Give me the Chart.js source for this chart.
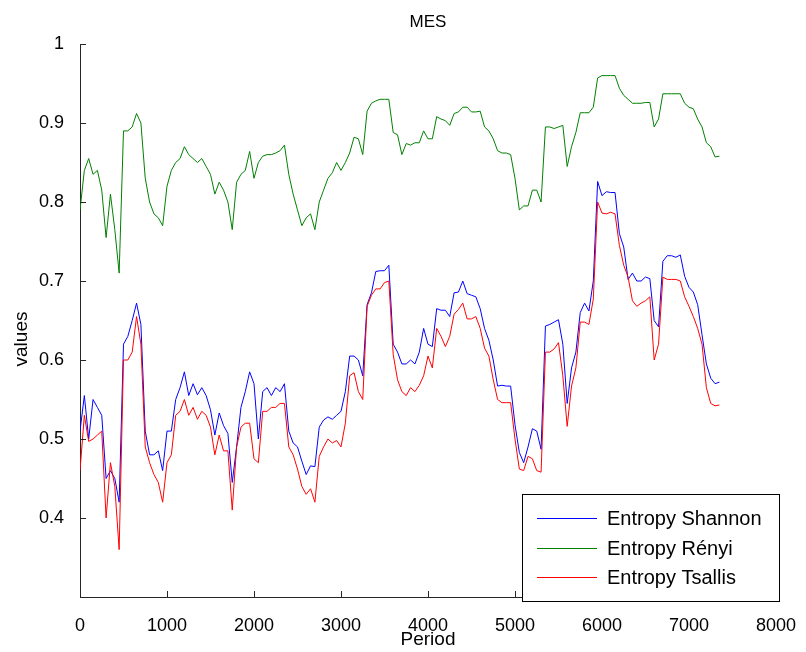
<!DOCTYPE html>
<html>
<head>
<meta charset="utf-8">
<script src="https://cdn.jsdelivr.net/npm/chart.js@4/dist/chart.umd.min.js"></script>
<style>
  html, body { margin: 0; padding: 0; background: #ffffff; }
  #wrap { width: 806px; height: 652px; }
</style>
</head>
<body>
<div id="wrap"><canvas id="c" width="806" height="652"></canvas></div>
<script>
// ---- Data ----
const PERIOD_STEP = 50;            // sampling step of the periods
const chartTitle = "MES";
const xTitle = "Period";
const yTitle = "values";
const seriesNames = ["Entropy Shannon", "Entropy Rényi", "Entropy Tsallis"];
const seriesColors = ["#0000ff", "#008000", "#ff0000"];
const xTickValues = [0, 1000, 2000, 3000, 4000, 5000, 6000, 7000, 8000];
const yTickValues = [0.4, 0.5, 0.6, 0.7, 0.8, 0.9, 1];

const shannon = [
  0.51, 0.555, 0.50, 0.55, 0.54, 0.53, 0.45, 0.46, 0.45, 0.42,
  0.62, 0.63, 0.65, 0.672, 0.645, 0.51, 0.48, 0.48, 0.485, 0.46,
  0.51, 0.51, 0.55, 0.565, 0.585, 0.555, 0.57, 0.556, 0.565, 0.555,
  0.537, 0.505, 0.533, 0.517, 0.507, 0.445, 0.49, 0.54, 0.56, 0.585,
  0.57, 0.50, 0.56, 0.565, 0.555, 0.565, 0.56, 0.57, 0.51, 0.495,
  0.49, 0.472, 0.455, 0.466, 0.465, 0.515, 0.524, 0.528, 0.525, 0.53,
  0.535, 0.56, 0.605, 0.605, 0.60, 0.58, 0.67, 0.685, 0.712, 0.713,
  0.713, 0.72, 0.62, 0.61, 0.595, 0.595, 0.60, 0.595, 0.61, 0.64,
  0.62, 0.617, 0.665, 0.663, 0.663, 0.655, 0.685, 0.686, 0.70, 0.684,
  0.682, 0.68, 0.665, 0.64, 0.625, 0.60, 0.567, 0.568, 0.567, 0.567,
  0.518, 0.483, 0.47, 0.49, 0.513, 0.51, 0.487, 0.643, 0.645, 0.648,
  0.651, 0.62, 0.545, 0.59, 0.61, 0.66, 0.672, 0.662, 0.70, 0.826,
  0.808, 0.813, 0.812, 0.812, 0.76, 0.743, 0.702, 0.71, 0.70, 0.70,
  0.705, 0.703, 0.65, 0.642, 0.725, 0.732, 0.732, 0.73, 0.733, 0.706,
  0.692, 0.686, 0.67, 0.632, 0.595, 0.577, 0.57, 0.572
];

const renyi = [
  0.79, 0.84, 0.855, 0.835, 0.84, 0.815, 0.755, 0.81, 0.765, 0.71,
  0.89, 0.89, 0.895, 0.912, 0.90, 0.83, 0.80, 0.785, 0.78, 0.77,
  0.82, 0.84, 0.85, 0.855, 0.87, 0.86, 0.855, 0.85, 0.855, 0.845,
  0.835, 0.81, 0.825, 0.815, 0.80, 0.765, 0.825, 0.835, 0.84, 0.864,
  0.83, 0.85, 0.858, 0.86, 0.86, 0.862, 0.865, 0.872, 0.835, 0.81,
  0.79, 0.77, 0.78, 0.785, 0.765, 0.80, 0.815, 0.83, 0.837, 0.85,
  0.84, 0.85, 0.862, 0.882, 0.88, 0.86, 0.915, 0.925, 0.928, 0.93,
  0.93, 0.93, 0.888, 0.885, 0.86, 0.874, 0.872, 0.875, 0.875, 0.89,
  0.88, 0.88, 0.908, 0.905, 0.903, 0.897, 0.912, 0.914, 0.92, 0.92,
  0.914, 0.914, 0.915, 0.895, 0.89, 0.88, 0.865, 0.862, 0.862, 0.86,
  0.83, 0.79, 0.795, 0.795, 0.815, 0.815, 0.80, 0.895, 0.895, 0.893,
  0.895, 0.897, 0.845, 0.87, 0.888, 0.913, 0.913, 0.913, 0.92, 0.957,
  0.96, 0.96, 0.96, 0.96, 0.944, 0.935, 0.93, 0.925, 0.925, 0.925,
  0.926, 0.926, 0.895, 0.905, 0.937, 0.937, 0.937, 0.937, 0.937, 0.925,
  0.92, 0.918, 0.905, 0.895, 0.875, 0.87, 0.857, 0.858
];

const tsallis = [
  0.46, 0.53, 0.497, 0.50, 0.505, 0.51, 0.40, 0.47, 0.44, 0.36,
  0.60, 0.60, 0.61, 0.655, 0.62, 0.49, 0.47, 0.455, 0.445, 0.42,
  0.47, 0.48, 0.53, 0.535, 0.55, 0.53, 0.54, 0.525, 0.535, 0.53,
  0.515, 0.48, 0.505, 0.485, 0.485, 0.41, 0.49, 0.515, 0.52, 0.52,
  0.475, 0.47, 0.535, 0.535, 0.54, 0.54, 0.545, 0.545, 0.49, 0.48,
  0.462, 0.44, 0.43, 0.437, 0.42, 0.478, 0.49, 0.50, 0.495, 0.498,
  0.49, 0.52, 0.58, 0.584, 0.56, 0.55, 0.668, 0.682, 0.69, 0.69,
  0.698, 0.70, 0.607, 0.575, 0.56, 0.555, 0.565, 0.56, 0.568, 0.58,
  0.605, 0.59, 0.64, 0.63, 0.617, 0.63, 0.658, 0.664, 0.672, 0.652,
  0.652, 0.655, 0.64, 0.615, 0.605, 0.575, 0.55, 0.546, 0.546, 0.546,
  0.50, 0.462, 0.46, 0.478, 0.475, 0.46, 0.458, 0.61, 0.61, 0.614,
  0.622, 0.58, 0.516, 0.567, 0.59, 0.648, 0.648, 0.645, 0.677, 0.80,
  0.786, 0.785, 0.787, 0.785, 0.745, 0.72, 0.705, 0.675, 0.668, 0.672,
  0.675, 0.68, 0.60, 0.62, 0.705, 0.702, 0.702, 0.702, 0.70, 0.68,
  0.668, 0.655, 0.64, 0.62, 0.565, 0.545, 0.542, 0.543
];

const periods = shannon.map((_, i) => i * PERIOD_STEP);
const allSeries = [shannon, renyi, tsallis];

// ---- Chart ----
const FONT = "'Liberation Sans', Arial, Helvetica, sans-serif";
const AXIS_COLOR = "#262626";

const toPoints = vals => vals.map((v, i) => ({ x: periods[i], y: v }));

const datasets = allSeries.map((vals, k) => ({
  label: seriesNames[k],
  data: toPoints(vals),
  borderColor: seriesColors[k],
  backgroundColor: seriesColors[k],
  borderWidth: 1,
  pointRadius: 0,
  tension: 0,
  fill: false,
  order: [2, 1, 0][k]
}));

const decorPlugin = {
  id: 'decor',
  afterDraw(chart) {
    const ctx = chart.ctx;
    const xs = chart.scales.x, ys = chart.scales.y;
    const area = chart.chartArea;
    ctx.save();
    // inward tick marks
    ctx.strokeStyle = AXIS_COLOR;
    ctx.lineWidth = 1;
    ctx.beginPath();
    xTickValues.forEach(v => {
      const px = Math.round(xs.getPixelForValue(v)) + 0.5;
      ctx.moveTo(px, area.bottom);
      ctx.lineTo(px, area.bottom - 6);
    });
    yTickValues.forEach(v => {
      const py = Math.round(ys.getPixelForValue(v)) + 0.5;
      ctx.moveTo(area.left, py);
      ctx.lineTo(area.left + 6, py);
    });
    ctx.stroke();

    // title
    ctx.fillStyle = '#000';
    ctx.font = '17px ' + FONT;
    ctx.textAlign = 'center';
    ctx.textBaseline = 'middle';
    ctx.fillText(chartTitle, (area.left + area.right) / 2, 22);

    // y axis title
    ctx.save();
    ctx.translate(22, 339);
    ctx.rotate(-Math.PI / 2);
    ctx.font = '19px ' + FONT;
    ctx.fillText(yTitle, 0, 0);
    ctx.restore();

    // legend box (inside plot, bottom right)
    const bx = 522.5, by = 494.5, bw = 257, bh = 107;
    ctx.fillStyle = '#ffffff';
    ctx.fillRect(bx, by, bw, bh);
    ctx.strokeStyle = '#000';
    ctx.strokeRect(bx, by, bw, bh);
    const rows = [518, 548, 577];
    ctx.textAlign = 'left';
    chart.data.datasets.forEach((ds, k) => {
      const y = rows[k] + 0.5;
      ctx.strokeStyle = ds.borderColor;
      ctx.beginPath();
      ctx.moveTo(537, y);
      ctx.lineTo(597, y);
      ctx.stroke();
      ctx.fillStyle = '#000';
      ctx.font = '20px ' + FONT;
      ctx.fillText(ds.label, 607, rows[k] + 1);
    });
    ctx.restore();
  }
};

new Chart(document.getElementById('c'), {
  type: 'line',
  data: { datasets },
  plugins: [decorPlugin],
  options: {
    responsive: false,
    animation: false,
    devicePixelRatio: 1,
    layout: { padding: { top: 44, right: 23, left: 0, bottom: 0 } },
    plugins: {
      legend: { display: false },
      title: { display: false },
      tooltip: { enabled: false }
    },
    scales: {
      x: {
        type: 'linear',
        min: 0, max: 8000,
        afterFit(scale) { scale.height = 55; },
        afterBuildTicks(scale) { scale.ticks = xTickValues.map(v => ({ value: v })); },
        grid: { display: false },
        border: { display: true, color: AXIS_COLOR, width: 1 },
        ticks: {
          color: '#000', padding: 10, maxRotation: 0, autoSkip: false,
          font: { family: FONT, size: 18 },
          callback: v => String(v)
        },
        title: {
          display: true, text: xTitle, color: '#000',
          font: { family: FONT, size: 19 },
          padding: { top: 0, bottom: 1 }
        }
      },
      y: {
        type: 'linear',
        min: 0.3, max: 1,
        afterFit(scale) { scale.width = 80; },
        afterBuildTicks(scale) { scale.ticks = yTickValues.map(v => ({ value: v })); },
        grid: { display: false },
        border: { display: true, color: AXIS_COLOR, width: 1 },
        ticks: {
          color: '#000', padding: 8, autoSkip: false,
          font: { family: FONT, size: 18 },
          callback: v => String(Math.round(v * 10) / 10)
        },
        title: { display: false }
      }
    }
  }
});
</script>
</body>
</html>
